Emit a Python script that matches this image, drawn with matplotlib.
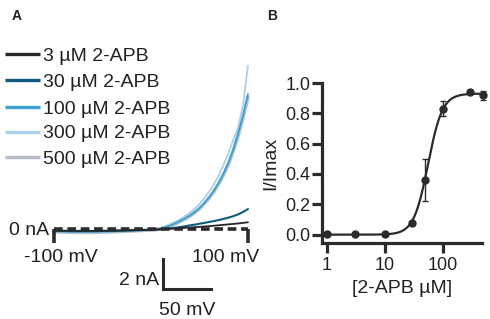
import matplotlib
matplotlib.use("Agg")
import matplotlib.pyplot as plt
import numpy as np
from matplotlib.ticker import FixedLocator, NullLocator, FormatStrFormatter

plt.rcParams['font.family'] = ['Liberation Sans', 'DejaVu Sans']

# -- Panel A: I-V traces (mV, nA) --
voltage = [-100, -80, -60, -40, -20, 0, 5, 10, 15, 20, 25, 30, 35, 40, 45, 50,
           55, 60, 65, 70, 75, 80, 85, 90, 95, 100]
i_3uM = [-0.10, -0.12, -0.12, -0.11, -0.08, -0.05, -0.03, -0.02, 0.00, 0.02, 0.04,
         0.06, 0.08, 0.10, 0.12, 0.14, 0.17, 0.19, 0.22, 0.25, 0.28, 0.31, 0.34,
         0.37, 0.41, 0.45]
i_30uM = [-0.12, -0.14, -0.14, -0.12, -0.09, -0.05, -0.04, -0.02, 0.01, 0.04, 0.08,
          0.13, 0.18, 0.24, 0.29, 0.35, 0.41, 0.47, 0.53, 0.60, 0.68, 0.76, 0.86,
          0.98, 1.14, 1.33]
i_100uM = [-0.15, -0.18, -0.18, -0.16, -0.11, -0.06, -0.03, 0.03, 0.12, 0.24, 0.38,
           0.54, 0.71, 0.90, 1.13, 1.40, 1.74, 2.12, 2.57, 3.10, 3.72, 4.45, 5.35,
           6.40, 7.60, 9.00]
i_300uM = [-0.14, -0.17, -0.17, -0.15, -0.10, -0.05, 0.00, 0.08, 0.20, 0.33, 0.48,
           0.66, 0.86, 1.08, 1.35, 1.67, 2.05, 2.50, 3.00, 3.60, 4.30, 5.10, 5.95,
           6.80, 8.30, 10.90]
i_500uM = [-0.18, -0.22, -0.22, -0.19, -0.13, -0.07, -0.04, 0.02, 0.10, 0.21, 0.34,
           0.50, 0.67, 0.86, 1.09, 1.36, 1.69, 2.07, 2.52, 3.04, 3.65, 4.36, 5.22,
           6.25, 7.45, 8.80]

trace_labels = ["3 µM 2-APB", "30 µM 2-APB", "100 µM 2-APB", "300 µM 2-APB", "500 µM 2-APB"]
trace_data = [i_3uM, i_30uM, i_100uM, i_300uM, i_500uM]
trace_colors = ["#262626", "#0d5a7c", "#3da1d4", "#a9d1ec", "#b6bdc8"]
trace_widths = [1.3, 1.5, 1.3, 1.3, 2.6]

# -- Panel B: dose response --
conc = [1, 3, 10, 30, 50, 100, 300, 500]
norm_current = [0.005, 0.005, 0.005, 0.08, 0.36, 0.83, 0.94, 0.92]
norm_err = [0.0, 0.0, 0.0, 0.01, 0.14, 0.05, 0.015, 0.03]
# Hill fit
fit_top = 0.93
fit_ec50 = 56.0
fit_hill = 3.5

dark = "#2b2b2b"
W, H = 490, 319

fig = plt.figure(figsize=(4.9, 3.19), dpi=100)

# panel A, axes covers the left part; data coords are mV / nA
axA = fig.add_axes([0, 0, 260 / W, 1])
axA.set_xlim(-155.7, 112.4)
axA.set_ylim(-6.0, 15.27)
axA.axis('off')


def pxA(x, y):
    # pixel position inside panel A -> axes fraction
    return x / 260.0, 1 - y / float(H)


# 500 first (behind), then 300, 100, 30, 3
for cur, col, lw in reversed(list(zip(trace_data, trace_colors, trace_widths))):
    axA.plot(voltage, cur, color=col, lw=lw, solid_capstyle='round')

axA.plot([-100, 100], [0, 0], color=dark, lw=2.6, ls=(0, (2.4, 1.3)))
axA.plot([-100, -100], [0, -0.95], color=dark, lw=2.6, solid_capstyle='butt')
axA.plot([100, 100], [0, -0.95], color=dark, lw=2.6, solid_capstyle='butt')

# scale bars
axA.plot([12, 12, 62], [-2, -4, -4], color=dark, lw=2.2, solid_joinstyle='miter')

tfs = 14
axA.text(-105.2, -0.4, "0 nA", ha='right', va='baseline', fontsize=tfs, color='#222222')
axA.text(-92.8, -2.2, "-100 mV", ha='center', va='baseline', fontsize=tfs, color='#222222')
axA.text(77.3, -2.2, "100 mV", ha='center', va='baseline', fontsize=tfs, color='#222222')
axA.text(8, -3.75, "2 nA", ha='right', va='baseline', fontsize=tfs, color='#222222')
axA.text(37, -5.75, "50 mV", ha='center', va='baseline', fontsize=tfs, color='#222222')

# legend
rows = [54, 80.5, 106.5, 131.5, 157]
for lbl, col, ry in zip(trace_labels, trace_colors, rows):
    x0, y0 = pxA(5, ry)
    x1, _ = pxA(40, ry)
    axA.plot([x0, x1], [y0, y0], transform=axA.transAxes, color=col, lw=2.4,
             solid_capstyle='butt')
    tx, ty = pxA(43, ry + 7)
    axA.text(tx, ty, lbl, transform=axA.transAxes, ha='left', va='baseline',
             fontsize=tfs, color='#222222')

fig.text(12 / W, 1 - 20 / H, "A", fontsize=10, fontweight='bold', color='#222222')
fig.text(267 / W, 1 - 20 / H, "B", fontsize=10, fontweight='bold', color='#222222')

# panel B
axB = fig.add_axes([322 / W, (H - 243) / H, 160 / W, 160 / H])
xfit = np.logspace(0, np.log10(500), 300)
yfit = fit_top / (1 + (fit_ec50 / xfit) ** fit_hill)
axB.plot(xfit, yfit, color=dark, lw=1.6, clip_on=False)
axB.errorbar(conc, norm_current, yerr=norm_err, fmt='o', color=dark, ms=5,
             elinewidth=1.0, capsize=2.5, capthick=1.0, clip_on=False)
axB.set_xscale('log')
axB.set_xlim(0.82, 480)
axB.set_ylim(-0.055, 1.0)
axB.xaxis.set_major_locator(FixedLocator([1, 10, 100]))
axB.xaxis.set_minor_locator(NullLocator())
axB.set_xticklabels(["1", "10", "100"])
axB.set_yticks([0.0, 0.2, 0.4, 0.6, 0.8, 1.0])
axB.yaxis.set_major_formatter(FormatStrFormatter('%.1f'))
for s in ['top', 'right']:
    axB.spines[s].set_visible(False)
for s in ['left', 'bottom']:
    axB.spines[s].set_linewidth(2.3)
    axB.spines[s].set_color(dark)
axB.tick_params(axis='both', width=2.3, length=7, color=dark, labelsize=13,
                labelcolor='#222222')
axB.tick_params(axis='y', pad=1.5)
axB.tick_params(axis='x', pad=3)
axB.set_ylabel("I/Imax", fontsize=14, color='#222222')
axB.set_xlabel("[2-APB µM]", fontsize=14, color='#222222')
axB.yaxis.set_label_coords(-0.27, 0.5)
axB.xaxis.set_label_coords(0.5, -0.23)

fig.savefig("out.png", dpi=100)
